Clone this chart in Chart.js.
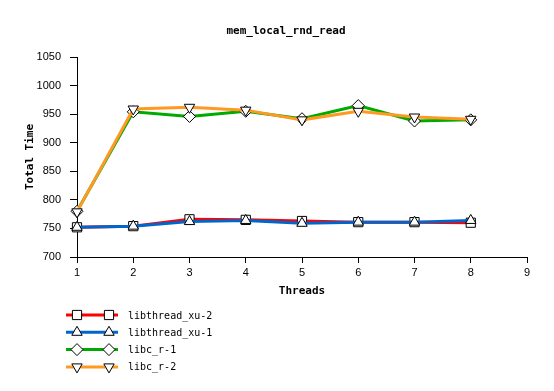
<!DOCTYPE html>
<html>
<head>
<meta charset="utf-8">
<script src="https://cdn.jsdelivr.net/npm/chart.js@4"></script>
<style>
  html, body { margin: 0; padding: 0; background: #fff; }
  #wrap { width: 554px; height: 391px; }
</style>
</head>
<body>
<div id="wrap"><canvas id="chart" width="554" height="391"></canvas></div>
<script>
const chartTitle = 'mem_local_rnd_read';
const threads = [1, 2, 3, 4, 5, 6, 7, 8];
const libthreadXu2 = [752, 754, 766, 765, 763, 761, 761, 760];
const libthreadXu1 = [752, 754, 762, 764, 759, 761, 761, 764];
const libcR1 = [780, 954, 946, 955, 942, 965, 938, 940];
const libcR2 = [779, 959, 962, 957, 940, 955, 945, 941];
const seriesNames = ['libthread_xu-2', 'libthread_xu-1', 'libc_r-1', 'libc_r-2'];

const colors = ['#ff0000', '#0066cc', '#00aa00', '#ff9922'];
const markers = ['rect', 'triangle', 'rectRot', 'triangle'];
const rotations = [0, 0, 0, 180];
const radii = [6.5, 6, 6, 6];

function toPoints(values) {
    return values.map((v, i) => ({ x: threads[i], y: v }));
}

const seriesValues = [libthreadXu2, libthreadXu1, libcR1, libcR2];

const datasets = seriesValues.map((vals, i) => ({
    label: seriesNames[i],
    data: toPoints(vals),
    borderColor: colors[i],
    backgroundColor: '#ffffff',
    borderWidth: 3,
    pointStyle: markers[i],
    pointRotation: rotations[i],
    pointRadius: radii[i],
    pointBorderColor: '#000000',
    pointBackgroundColor: '#ffffff',
    pointBorderWidth: 1,
    tension: 0,
    clip: false,
    order: 4 - i
}));

// title and the line-with-markers legend
const extras = {
    id: 'extras',
    afterDraw(chart) {
        const ctx = chart.ctx;
        ctx.save();
        ctx.fillStyle = '#000';
        ctx.font = 'bold 11px "DejaVu Sans Mono"';
        ctx.textAlign = 'center';
        ctx.textBaseline = 'middle';
        ctx.fillText(chartTitle, 286, 31);

        ctx.font = '10px "DejaVu Sans Mono"';
        ctx.textAlign = 'left';
        seriesNames.forEach((name, i) => {
            const y = 315 + i * 17.3;
            ctx.strokeStyle = colors[i];
            ctx.lineWidth = 3;
            ctx.beginPath();
            ctx.moveTo(66, y);
            ctx.lineTo(118, y);
            ctx.stroke();
            [77, 109].forEach(px => {
                ctx.fillStyle = '#fff';
                ctx.strokeStyle = '#000';
                ctx.lineWidth = 1;
                Chart.helpers.drawPoint(ctx, {
                    pointStyle: markers[i],
                    rotation: rotations[i],
                    radius: radii[i],
                    borderWidth: 1
                }, px, y);
            });
            ctx.fillStyle = '#000';
            ctx.fillText(name, 128, y + 1);
        });
        ctx.restore();
    }
};

new Chart(document.getElementById('chart'), {
    type: 'line',
    data: { datasets: datasets },
    options: {
        responsive: false,
        animation: false,
        layout: { padding: { top: 57, right: 27, left: 0, bottom: 0 } },
        plugins: {
            legend: { display: false },
            title: { display: false },
            tooltip: { enabled: false }
        },
        scales: {
            x: {
                type: 'linear',
                min: 1,
                max: 9,
                afterFit: s => { s.height = 134; },
                ticks: {
                    stepSize: 1,
                    color: '#000',
                    padding: 3,
                    font: { family: 'Liberation Sans', size: 11 }
                },
                grid: {
                    drawOnChartArea: false,
                    drawTicks: true,
                    tickLength: 6,
                    color: '#000'
                },
                border: { display: true, color: '#000', width: 1 },
                title: {
                    display: true,
                    text: 'Threads',
                    color: '#000',
                    font: { family: 'DejaVu Sans Mono', size: 11, weight: 'bold' },
                    padding: { top: 0, bottom: 93 }
                }
            },
            y: {
                min: 700,
                max: 1050,
                afterFit: s => { s.width = 77; },
                ticks: {
                    stepSize: 50,
                    color: '#000',
                    padding: 9,
                    font: { family: 'Liberation Sans', size: 11 },
                    callback: v => String(v)
                },
                grid: {
                    drawOnChartArea: false,
                    drawTicks: true,
                    tickLength: 7,
                    color: '#000'
                },
                border: { display: true, color: '#000', width: 1 },
                title: {
                    display: true,
                    text: 'Total Time',
                    color: '#000',
                    font: { family: 'DejaVu Sans Mono', size: 11, weight: 'bold' },
                    padding: { top: 24, bottom: 0 }
                }
            }
        }
    },
    plugins: [extras]
});
</script>
</body>
</html>
